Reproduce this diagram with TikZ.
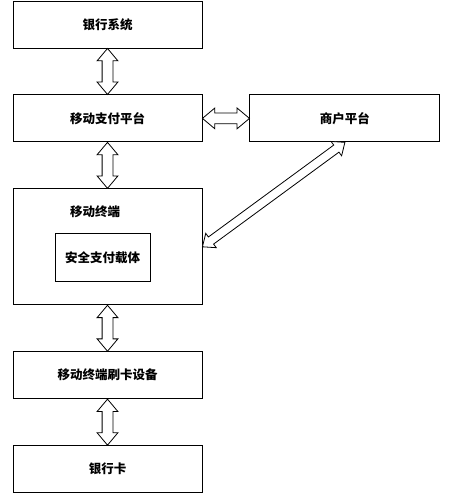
\documentclass[tikz,border=0pt]{standalone}
\usepackage{fontspec}
\newfontfamily\cjk{Noto Sans CJK SC}
\usetikzlibrary{positioning,calc,shapes.arrows}

% hollow double-headed arrow between two named points
\newcommand{\hollowarrow}[3][]{%
  \path let \p1=($(#3)-(#2)$), \n1={veclen(\x1,\y1)}, \n2={atan2(\y1,\x1)} in
    node[dblarrow, minimum height=\n1, rotate=\n2, #1] at ($(#2)!0.5!(#3)$) {};}

\begin{document}
\begin{tikzpicture}[x=1pt, y=1pt,
                box/.style={draw, line width=0.9pt, minimum width=189pt, minimum height=47pt,
                            inner sep=0pt, font=\cjk\bfseries\fontsize{12.5}{15}\selectfont},
                dblarrow/.style={shape=double arrow, draw, line width=0.8pt, fill=white,
                            inner xsep=0pt, inner ysep=5pt, double arrow head extend=5pt,
                            double arrow tip angle=80}]
                \useasboundingbox (0, 0) rectangle (449, 500);
                \node [box] (bank) at (107.5, 475.5) {银行系统};
                \node [box, below=46pt of bank] (platform) {移动支付平台};
                \node [box, right=47pt of platform, minimum width=190pt] (merchant) {商户平台};
                \node [box, below=46pt of platform, minimum height=116pt] (terminal) {};
                \node [font=\cjk\bfseries\fontsize{12.5}{15}\selectfont] (termlabel)
                      at ($(terminal.north)+(-12.5, -23)$) {移动终端};
                \node [box, minimum width=95pt, minimum height=48pt] (carrier)
                      at ($(terminal.center)+(-5, -11)$) {安全支付载体};
                \node [box, below=46pt of terminal] (reader) {移动终端刷卡设备};
                \node [box, below=46pt of reader] (card) {银行卡};
                % connections
                \hollowarrow{bank.south}{platform.north}
                \hollowarrow{platform.east}{merchant.west}
                \hollowarrow{platform.south}{terminal.north}
                \hollowarrow[inner ysep=4pt, double arrow head extend=4.5pt]{terminal.east}{merchant.south}
                \hollowarrow{terminal.south}{reader.north}
                \hollowarrow{reader.south}{card.north}
            \end{tikzpicture}
\end{document}
